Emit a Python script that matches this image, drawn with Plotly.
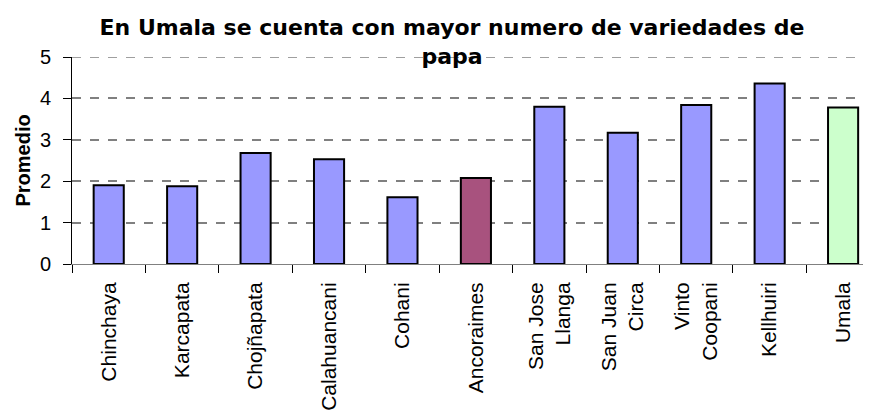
import plotly.graph_objects as go

# Comunidades y promedio de variedades de papa
comunidades = ['Chinchaya', 'Karcapata', 'Chojñapata', 'Calahuancani', 'Cohani',
               'Ancoraimes', 'San Jose<br>Llanga', 'San Juan<br>Circa', 'Vinto<br>Coopani',
               'Kellhuiri', 'Umala']
promedios = [1.90, 1.88, 2.68, 2.53, 1.61, 2.08, 3.80, 3.17, 3.84, 4.36, 3.78]
colores = ['#9999FF'] * 5 + ['#A8527E'] + ['#9999FF'] * 4 + ['#CCFFCC']
y_ticks = [0, 1, 2, 3, 4, 5]

# la pagina tiene 8px de margen en el body, el grafico se dibuja un poco mas chico
fig = go.Figure(go.Bar(
    x=comunidades, y=promedios, width=0.41,
    marker=dict(color=colores, line=dict(color='black', width=2)),
))

fig.update_layout(
    width=863, height=409,
    margin=dict(l=64, r=0, t=49, b=153),
    paper_bgcolor='white', plot_bgcolor='white',
    showlegend=False,
    font=dict(family='Liberation Sans', color='black'),
    title=dict(
        text='<b>En Umala se cuenta con mayor numero de variedades de<br>papa</b>',
        x=444 / 863, xanchor='center', y=0.933, yanchor='top',
        font=dict(size=22, family='DejaVu Sans'),
    ),
    xaxis=dict(
        type='category', range=[-0.5, 10.38], automargin=False,
        showline=True, linecolor='#808080', linewidth=1,
        ticks='outside', tickson='boundaries', ticklen=8, tickcolor='black',
        tickangle=-90, tickfont=dict(size=21, family='Liberation Sans'),
        ticklabelstandoff=9,
    ),
    yaxis=dict(
        range=[0, 5], tickvals=y_ticks, automargin=False,
        showline=True, linecolor='black', linewidth=1,
        ticks='outside', ticklen=8, tickcolor='black',
        showgrid=True, gridcolor='#808080', griddash='dash', gridwidth=1.5,
        zeroline=False, ticklabelstandoff=8,
        tickfont=dict(size=20, family='Liberation Sans'),
    ),
    annotations=[dict(
        text='<b>Promedio</b>', textangle=-90, showarrow=False,
        xref='paper', yref='paper', x=0, y=0.5, xanchor='center', xshift=-50,
        font=dict(size=20, family='Liberation Sans'),
    )],
)

# linea de grilla superior (plotly no la dibuja en el borde)
fig.add_hline(y=y_ticks[-1], line=dict(color='#808080', width=1.5, dash='dash'), layer='below')

fig.write_html('out.html')
